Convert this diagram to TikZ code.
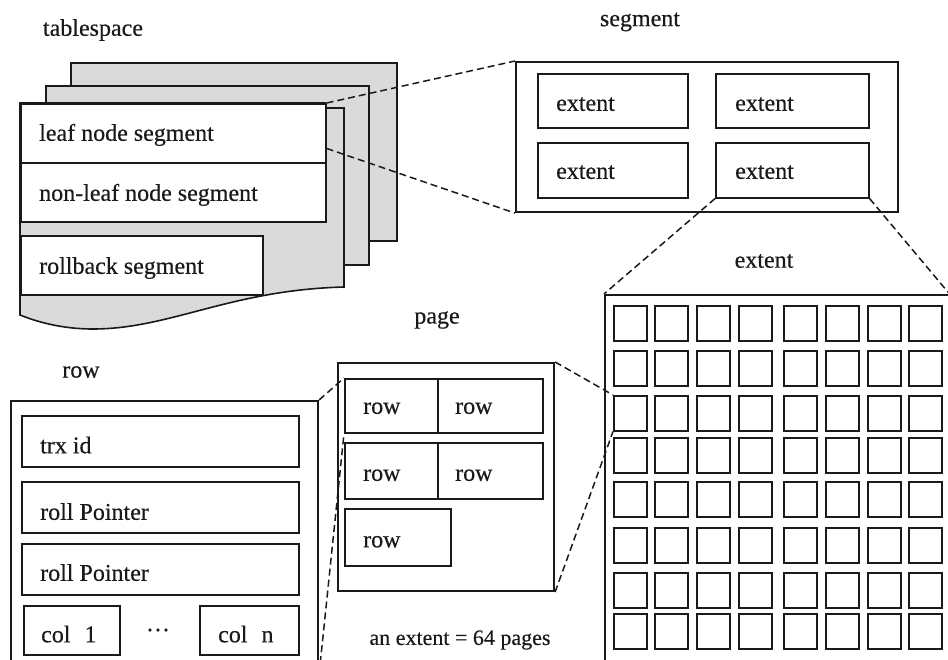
\documentclass[tikz,border=0pt]{standalone}
\usepackage{fontspec}
\setmainfont{Liberation Serif}[FakeBold=0.4]
\usetikzlibrary{calc}
\definecolor{ink}{HTML}{1A1A1A}
\definecolor{sheetgray}{HTML}{DADADA}
\begin{document}
\begin{tikzpicture}[x=1pt,y=-1pt,
  obox/.style={draw=ink, line width=2.1pt, fill=white, inner sep=0pt, anchor=north west},
  ibox/.style={draw=ink, line width=1.6pt, fill=white, inner sep=0pt, anchor=north west},
  cellbox/.style={draw=ink, line width=1.6pt, fill=white, inner sep=0pt, anchor=north west, minimum width=33pt, minimum height=35pt},
  sheet/.style={draw=ink, line width=1.6pt, fill=sheetgray},
  lbl/.style={font=\fontsize{24}{28}\selectfont, inner sep=0pt, text=ink, anchor=base west},
  ttl/.style={font=\fontsize{24}{28}\selectfont, inner sep=0pt, text=ink},
  zoomline/.style={draw=ink, line width=1.5pt, dash pattern=on 7pt off 4pt}
]
\useasboundingbox (0,0) rectangle (948,660);

% ---------------- tablespace ----------------
\node[ttl] (tTablespace) at (93,30) {tablespace};
\path[sheet] (71,63) rectangle (397,241);
\path[sheet] (46,86) rectangle (369,265);
\path[sheet] (20,103) -- (325,103) -- (325,108) -- (344,108) -- (344,287)
  .. controls (230,290) and (170,329) .. (93,329)
  .. controls (60,329) and (35,321) .. (20,315) -- cycle;
\node[ibox, minimum width=305pt, minimum height=59pt] (leaf) at (20,103) {};
\node[ibox, minimum width=305pt, minimum height=59pt] (nonleaf) at (20,162) {};
\node[ibox, minimum width=242pt, minimum height=59pt] (rollback) at (20,235) {};
\node[lbl] (tLeaf) at ([xshift=19pt,yshift=-7.5pt]leaf.west) {leaf node segment};
\node[lbl] (tNonleaf) at ([xshift=19pt,yshift=-8.5pt]nonleaf.west) {non-leaf node segment};
\node[lbl] (tRollback) at ([xshift=19pt,yshift=-8.5pt]rollback.west) {rollback segment};

% ---------------- segment ----------------
\node[ttl] (tSegment) at (640,22) {segment};
\node[obox, minimum width=382pt, minimum height=150pt] (segment) at (515,61) {};
\node[ibox, minimum width=150pt, minimum height=54pt] (e1) at (537,73) {};
\node[ibox, minimum width=153pt, minimum height=54pt] (e2) at (715,73) {};
\node[ibox, minimum width=150pt, minimum height=55pt] (e3) at (537,142) {};
\node[ibox, minimum width=153pt, minimum height=55pt] (e4) at (715,142) {};
\node[lbl] (te1) at ([xshift=19pt,yshift=-10pt]e1.west) {extent};
\node[lbl] (te2) at ([xshift=20pt,yshift=-10pt]e2.west) {extent};
\node[lbl] (te3) at ([xshift=19pt,yshift=-8.5pt]e3.west) {extent};
\node[lbl] (te4) at ([xshift=20pt,yshift=-8.5pt]e4.west) {extent};

\draw[zoomline] (leaf.north east) -- (segment.north west);
\draw[zoomline] ($(leaf.north east)!0.75!(leaf.south east)$) -- (segment.south west);

% ---------------- extent ----------------
\node[ttl] (tExtent) at (764,261) {extent};
\node[obox, minimum width=348pt, minimum height=378pt] (bigext) at (604,294) {};
\foreach \cy [count=\rj] in {305,350,395,437,481,527,572,613}{
  \foreach \cx [count=\ci] in {613,654,696,738,783,825,867,908}{
    \node[cellbox] (c-\rj-\ci) at (\cx,\cy) {};
  }
}
\draw[zoomline] (e4.south west) -- (bigext.north west);
\draw[zoomline] (e4.south east) -- ($(bigext.north west)!0.987!(bigext.north east)$);

% ---------------- page ----------------
\node[ttl] (tPage) at (437,320) {page};
\node[obox, minimum width=216pt, minimum height=228pt] (page) at (337,362) {};
\node[ibox, minimum width=93pt, minimum height=54pt] (p11) at (344,378) {};
\node[ibox, minimum width=105pt, minimum height=54pt] (p12) at (437,378) {};
\node[ibox, minimum width=93pt, minimum height=56pt] (p21) at (344,442) {};
\node[ibox, minimum width=105pt, minimum height=56pt] (p22) at (437,442) {};
\node[ibox, minimum width=106pt, minimum height=57pt] (p3) at (344,508) {};
\node[lbl] (tp11) at ([xshift=19pt,yshift=-8pt]p11.west) {row};
\node[lbl] (tp12) at ([xshift=18pt,yshift=-8pt]p12.west) {row};
\node[lbl] (tp21) at ([xshift=19pt,yshift=-10pt]p21.west) {row};
\node[lbl] (tp22) at ([xshift=18pt,yshift=-10pt]p22.west) {row};
\node[lbl] (tp3) at ([xshift=19pt,yshift=-10pt]p3.west) {row};
\node[ttl, font=\fontsize{22}{26}\selectfont] (tNote) at (460,640) {an extent = 64 pages};

\draw[zoomline] (page.north east) -- (c-3-1.north west);
\draw[zoomline] (page.south east) -- (c-3-1.south west);

% ---------------- row ----------------
\node[ttl] (tRow) at (81,372) {row};
\node[obox, minimum width=307pt, minimum height=272pt] (rowbox) at (10,400) {};
\node[ibox, minimum width=277pt, minimum height=51pt] (trx) at (21,415) {};
\node[ibox, minimum width=277pt, minimum height=51pt] (rp1) at (21,481) {};
\node[ibox, minimum width=277pt, minimum height=51pt] (rp2) at (21,543) {};
\node[ibox, minimum width=96pt, minimum height=49pt] (col1) at (23,605) {};
\node[ibox, minimum width=99pt, minimum height=49pt] (coln) at (199,605) {};
\node[lbl] (ttrx) at ([xshift=19pt,yshift=-12pt]trx.west) {trx id};
\node[lbl] (trp1) at ([xshift=19pt,yshift=-12.5pt]rp1.west) {roll Pointer};
\node[lbl] (trp2) at ([xshift=19pt,yshift=-11.5pt]rp2.west) {roll Pointer};
\node[lbl] (tcol1) at ([xshift=18pt,yshift=-12pt]col1.west) {col\hspace{14pt}1};
\node[lbl] (tcoln) at ([xshift=19pt,yshift=-12pt]coln.west) {col\hspace{14pt}n};
\node[ttl, anchor=base] (tdots) at (158,638) {···};

\draw[zoomline] (rowbox.north east) -- (p11.north west);
\draw[zoomline] (rowbox.south east) -- (p11.south west);
\end{tikzpicture}
\end{document}
